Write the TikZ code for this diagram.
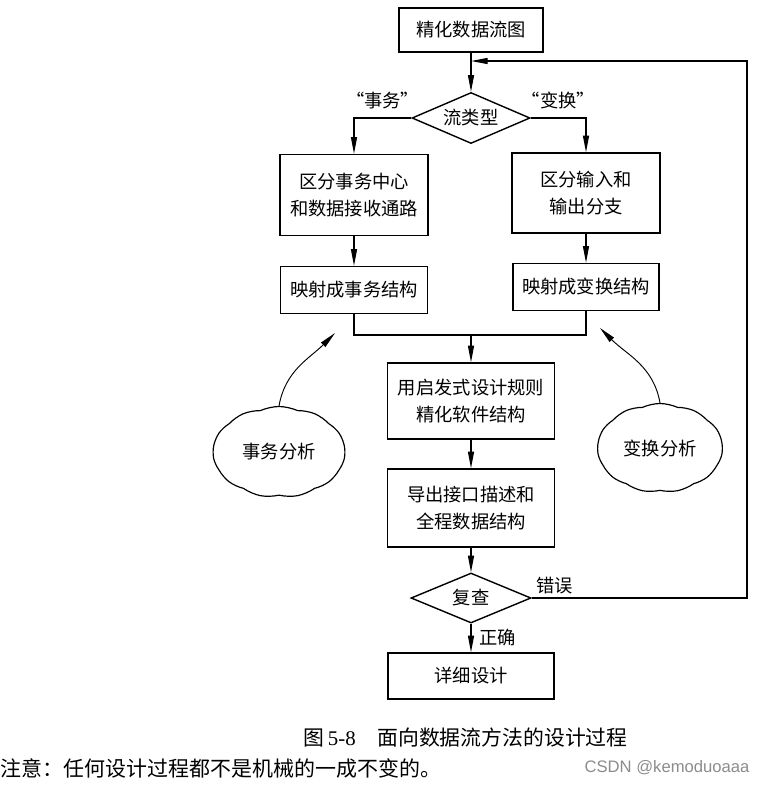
\documentclass[tikz,border=0pt]{standalone}
\usepackage{fontspec}
\setmainfont{Liberation Serif}
\newfontfamily\cjk{Noto Sans CJK SC}
\newfontfamily\wmfont{Liberation Sans}
\usetikzlibrary{arrows.meta,shapes.geometric,shapes.symbols}

\begin{document}
\begin{tikzpicture}[x=0.03cm,y=-0.03cm,
  font=\cjk\fontsize{15.6}{23}\selectfont,
  line width=1pt,>={Triangle[length=5mm,width=1.8mm]},
  box/.style={draw,line width=1.2pt,align=center,inner sep=0pt},
  decision/.style={draw,diamond,aspect=2.3,inner sep=0pt,line width=1.2pt},
  blob/.style={draw,cloud,cloud puffs=11,cloud puff arc=50,cloud ignores aspect,inner sep=0pt}]
\useasboundingbox (0,0) rectangle (756,785);
% middle column
\node[box,minimum width=4.32cm,minimum height=1.32cm] (dfd) at (471,30) {精化数据流图};
\node[decision,minimum width=3.54cm,minimum height=1.53cm] (type) at (471,118) {流类型};
% left and right branches
\node[box,minimum width=4.44cm,minimum height=2.43cm] (trcenter) at (354,195) {区分事务中心\\和数据接收通路};
\node[box,minimum width=4.44cm,minimum height=2.4cm] (inout) at (586,193) {区分输入和\\输出分支};
\node[box,minimum width=4.41cm,minimum height=1.41cm] (trmap) at (354,290) {映射成事务结构};
\node[box,minimum width=4.38cm,minimum height=1.41cm] (tfmap) at (586,287) {映射成变换结构};
\coordinate (merge) at (471,335);
% refine and check
\node[box,minimum width=5.01cm,minimum height=2.28cm] (refine) at (471,401) {用启发式设计规则\\精化软件结构};
\node[box,minimum width=5.01cm,minimum height=2.34cm] (iface) at (471,508) {导出接口描述和\\全程数据结构};
\node[decision,minimum width=3.6cm,minimum height=1.5cm] (check) at (471,598) {复查};
\node[box,minimum width=4.98cm,minimum height=1.38cm] (detail) at (471,676) {详细设计};
% clouds
\node[blob,minimum width=3.96cm,minimum height=2.73cm] (tranal) at (279,452) {事务分析};
\node[blob,minimum width=3.75cm,minimum height=2.67cm] (tfanal) at (660,448) {变换分析};
\coordinate (tipL) at (335,333);
\coordinate (tipR) at (600,328);
\coordinate (fb) at (747,61);
\coordinate (join) at (471,61);

\draw[->] (dfd) -- (type);
\draw[->] (type.west) -| node[pos=0.25,above=4pt] {“事务”} (trcenter.north);
\draw[->] (type.east) -| node[pos=0.25,above=4pt] {“变换”} (inout.north);
\draw[->] (trcenter) -- (trmap);
\draw[->] (inout) -- (tfmap);
\draw (trmap.south) |- (merge) -| (tfmap.south);
\draw[->] (merge) -- (refine);
\draw[->] (refine) -- (iface);
\draw[->] (iface) -- (check);
\draw[->] (check) -- node[right=3pt] {正确} (detail);
\draw[->] (check.east) node[above right] {错误} -| (fb) -- (join);
\draw[->,line width=0.8pt] (tranal.north) to[out=80,in=225] (tipL);
\draw[->,line width=0.8pt] (tfanal.north) to[out=100,in=-45] (tipR);

% caption and note
\node[anchor=west,inner sep=0pt,font=\fontsize{17.8}{20}\selectfont] (caption) at (303,738) {{\cjk 图}\,5-8\hspace{0.65cm}{\cjk 面向数据流方法的设计过程}};
\node[anchor=west,inner sep=0pt,font=\cjk\fontsize{17.9}{20}\selectfont] (note) at (0,768) {注意：任何设计过程都不是机械的一成不变的。};
\node[anchor=east,inner sep=0pt,text=black!45,font=\wmfont\fontsize{14.2}{16}\selectfont] (mark) at (750,768) {CSDN @kemoduoaaa};
\end{tikzpicture}
\end{document}
